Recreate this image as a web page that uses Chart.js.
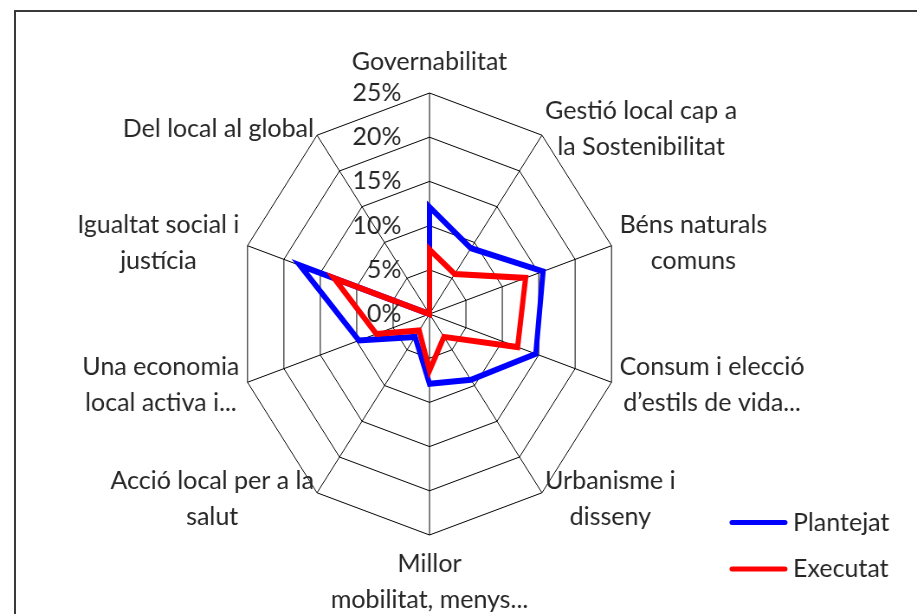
<!DOCTYPE html>
<html>
<head>
<meta charset="utf-8">
<script src="https://cdn.jsdelivr.net/npm/chart.js@4.4.0/dist/chart.umd.min.js"></script>
<style>
  html, body { margin: 0; padding: 0; background: #fff; overflow: hidden; }
  #wrap { position: relative; width: 917px; height: 614px; overflow: hidden; }
  #frame { position: absolute; left: 14px; top: 10px; width: 1000px; height: 1000px; border: 2px solid #3a3a3a; }
  #chart { position: absolute; left: 0; top: 0; }
</style>
</head>
<body>
<div id="wrap">
  <div id="frame"></div>
  <canvas id="chart" width="1059" height="614" style="width:917px;height:614px"></canvas>
</div>
<script>
const categories = [
    ['Governabilitat'],
    ['Gestió local cap a', 'la Sostenibilitat'],
    ['Béns naturals', 'comuns'],
    ['Consum i elecció', 'd’estils de vida...'],
    ['Urbanisme i', 'disseny'],
    ['Millor', 'mobilitat, menys...'],
    ['Acció local per a la', 'salut'],
    ['Una economia', 'local activa i...'],
    ['Igualtat social i', 'justícia'],
    ['Del local al global']
];
const plantejat = [12.1, 9.2, 15.6, 14.6, 9.2, 7.9, 3.2, 9.7, 17.8, 0];
const executat = [7.3, 5.6, 13.2, 12.1, 3.2, 6.4, 2.3, 7.3, 13.1, 0];
const seriesNames = ['Plantejat', 'Executat'];
const seriesColors = ['#0000FF', '#FF0000'];
const tickMax = 25;
const tickStep = 5;

// the original plot is squeezed sideways, the text is not
const SX = 917 / 1059;
const labelFont = '25px Lato';
const textColor = '#262626';

const textPlugin = {
    id: 'excelText',
    afterDraw(chart) {
        const ctx = chart.ctx;
        const scale = chart.scales.r;
        const cx = scale.xCenter * SX;
        const cy = scale.yCenter;
        const n = chart.data.labels.length;
        ctx.save();
        ctx.scale(1 / SX, 1);
        ctx.font = labelFont;
        ctx.fillStyle = textColor;
        ctx.textBaseline = 'middle';

        // tick labels, left of the vertical axis
        ctx.textAlign = 'right';
        for(const t of scale.ticks) {
            const y = cy - scale.getDistanceFromCenterForValue(t.value);
            ctx.fillText(t.value + '%', cx - 28, y);
        }

        // category labels
        ctx.textAlign = 'center';
        const lh = 36;
        chart.data.labels.forEach((lines, i) => {
            const p = scale.getPointPosition(i, scale.drawingArea);
            const vx = p.x * SX, vy = p.y;
            const a = i * 2 * Math.PI / n;
            const s = Math.sin(a), c = Math.cos(a);
            let x, y0;
            if(Math.abs(s) < 0.01) {
                x = vx;
                y0 = c > 0 ? vy - 31 - (lines.length - 1) * lh : vy + 29;
            } else {
                const bw = Math.max(...lines.map(l => ctx.measureText(l).width));
                const pad = 9 * s * s;
                x = s > 0 ? vx + pad + bw / 2 : vx - pad - bw / 2;
                y0 = vy - 8 * c - (lines.length - 1) * lh / 2;
            }
            lines.forEach((l, k) => ctx.fillText(l, x, y0 + k * lh));
        });

        // legend
        ctx.textAlign = 'left';
        ctx.lineCap = 'round';
        ctx.lineWidth = 5;
        chart.data.datasets.forEach((ds, k) => {
            const y = 522.5 + k * 46.5;
            ctx.strokeStyle = ds.borderColor;
            ctx.beginPath();
            ctx.moveTo(732, y);
            ctx.lineTo(785, y);
            ctx.stroke();
            ctx.fillText(ds.label, 793, y);
        });
        ctx.restore();
    }
};

const datasetSettings = {
    borderWidth: 6,
    pointRadius: 0,
    fill: false,
    tension: 0,
    borderJoinStyle: 'miter'
};

function draw() {
    const ds1 = Object.assign({}, datasetSettings, {label: seriesNames[0], data: plantejat, borderColor: seriesColors[0], order: 2});
    const ds2 = Object.assign({}, datasetSettings, {label: seriesNames[1], data: executat, borderColor: seriesColors[1], order: 1});
    new Chart(document.getElementById('chart'), {
        type: 'radar',
        data: {labels: categories, datasets: [ds1, ds2]},
        options: {
            responsive: false,
            animation: false,
            devicePixelRatio: 1,
            layout: {padding: {left: 275, right: 342, top: 93, bottom: 79}},
            plugins: {legend: {display: false}, tooltip: {enabled: false}},
            scales: {
                r: {
                    min: 0,
                    max: tickMax,
                    ticks: {stepSize: tickStep, display: false},
                    pointLabels: {display: false},
                    grid: {color: '#000000', lineWidth: 1},
                    angleLines: {color: '#000000', lineWidth: 1}
                }
            }
        },
        plugins: [textPlugin]
    });
}

if(document.fonts && document.fonts.load) document.fonts.load(labelFont).then(draw, draw);
else draw();
</script>
</body>
</html>
